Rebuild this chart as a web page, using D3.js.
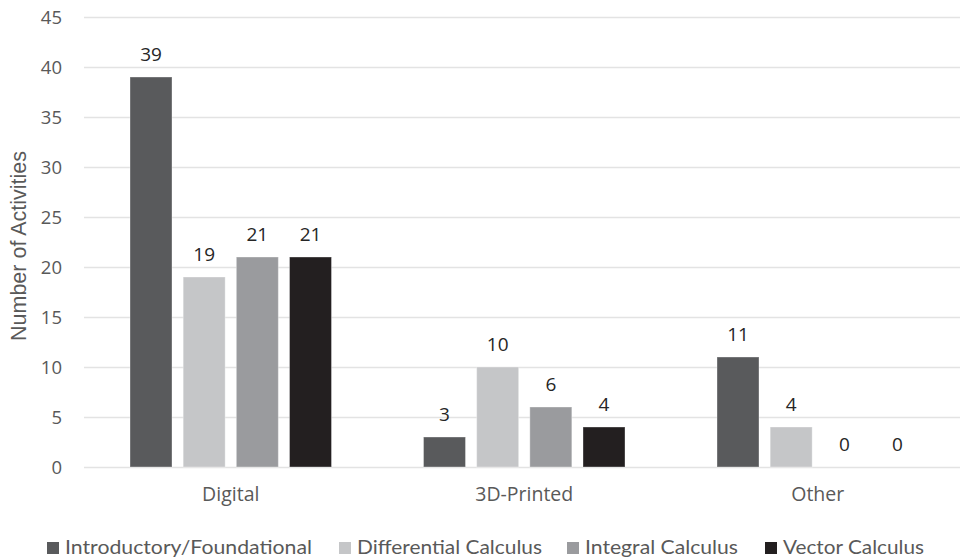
<!DOCTYPE html>
<html><head><meta charset="utf-8">
<script src="https://cdn.jsdelivr.net/npm/d3@7"></script>
<style>body{margin:0;background:#fff}</style>
</head><body>
<svg id="chart" width="960" height="560"></svg>
<script>
const categories = ["Digital", "3D-Printed", "Other"];
const seriesNames = ["Introductory/Foundational", "Differential Calculus", "Integral Calculus", "Vector Calculus"];
const introductory = [39, 3, 11];
const differential = [19, 10, 4];
const integral = [21, 6, 0];
const vector = [21, 4, 0];
const yTicks = [0, 5, 10, 15, 20, 25, 30, 35, 40, 45];
const colors = ["#595a5c", "#c5c6c8", "#9a9b9e", "#231f20"];
const seriesValues = [introductory, differential, integral, vector];

const svg = d3.select("#chart");
const W = 960, H = 560;
const plotLeft = 84, plotRight = 964.5, plotTop = 17, plotBottom = 467;

const y = d3.scaleLinear().domain([0, 45]).range([plotBottom, plotTop]);
const x0 = d3.scaleBand().domain(categories).range([plotLeft, plotRight]).padding(0);
const groupPad = 46;
const x1 = d3.scaleBand().domain(seriesNames).range([groupPad, x0.bandwidth() - groupPad]).paddingInner(0.21).paddingOuter(0);

// gridlines
svg.append("g").selectAll("line").data(yTicks).join("line")
  .attr("x1", plotLeft).attr("x2", W)
  .attr("y1", d => Math.round(y(d)) + 0.5).attr("y2", d => Math.round(y(d)) + 0.5)
  .attr("stroke", "#e3e3e3").attr("stroke-width", 1.5);

// y tick labels
svg.append("g").selectAll("text").data(yTicks).join("text")
  .attr("x", 62).attr("y", d => y(d)).attr("dy", "0.36em")
  .attr("text-anchor", "end")
  .attr("font-family", "'Open Sans', sans-serif").attr("font-size", 18.5)
  .attr("fill", "#595959").text(d => d);

// y axis title
svg.append("text")
  .attr("transform", `translate(26, ${246}) rotate(-90)`)
  .attr("text-anchor", "middle")
  .attr("font-family", "'Liberation Sans', Arial, sans-serif").attr("font-size", 21.5)
  .attr("fill", "#595959").text("Number of Activities");

// bars
const rows = [];
categories.forEach((c, ci) => seriesNames.forEach((s, si) => rows.push({c, s, si, v: seriesValues[si][ci]})));
const g = svg.append("g");
g.selectAll("rect").data(rows.filter(d => d.v > 0)).join("rect")
  .attr("x", d => x0(d.c) + x1(d.s))
  .attr("y", d => y(d.v))
  .attr("width", x1.bandwidth())
  .attr("height", d => y(0) - y(d.v))
  .attr("fill", d => colors[d.si])
  .attr("stroke", "#ffffff").attr("stroke-opacity", 0.35).attr("stroke-width", 1);

// data labels
g.selectAll("text").data(rows).join("text")
  .attr("x", d => x0(d.c) + x1(d.s) + x1.bandwidth() / 2)
  .attr("y", d => y(d.v) - 16)
  .attr("text-anchor", "middle")
  .attr("font-family", "'Open Sans', sans-serif").attr("font-size", 19)
  .attr("fill", "#262626").text(d => d.v);

// category labels
svg.append("g").selectAll("text").data(categories).join("text")
  .attr("x", d => x0(d) + x0.bandwidth() / 2).attr("y", 501)
  .attr("text-anchor", "middle")
  .attr("font-family", "'Open Sans', sans-serif").attr("font-size", 19.5)
  .attr("fill", "#595959").text(d => d);

// legend
const legendTextX = [65, 357, 585, 783];
const legendTextW = [247, 185, 153, 141];
const legend = svg.append("g");
seriesNames.forEach((s, i) => {
  legend.append("rect").attr("x", legendTextX[i] - 18).attr("y", 542).attr("width", 12).attr("height", 12).attr("fill", colors[i]);
  legend.append("text").attr("x", legendTextX[i]).attr("y", 554)
    .attr("font-family", "Lato, sans-serif").attr("font-size", 20)
    .attr("textLength", legendTextW[i]).attr("lengthAdjust", "spacingAndGlyphs")
    .attr("fill", "#595959").text(s);
});
</script>
</body></html>
